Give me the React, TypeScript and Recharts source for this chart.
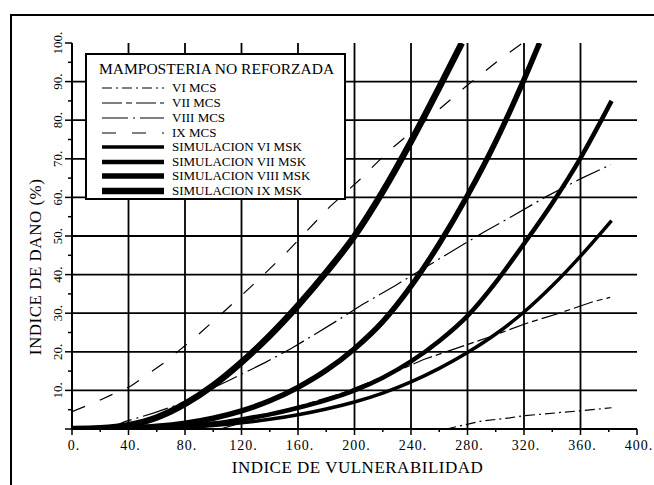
import { CartesianGrid, Legend, Line, LineChart, XAxis, YAxis } from "recharts";

const FONT = '"Liberation Serif", "DejaVu Serif", serif';

const X_TICKS = [0, 20, 40, 60, 80, 100, 120, 140, 160, 180, 200, 220, 240, 260, 280, 300, 320, 340, 360, 380, 400];
const Y_TICKS = [0, 5, 10, 15, 20, 25, 30, 35, 40, 45, 50, 55, 60, 65, 70, 75, 80, 85, 90, 95, 100];
const X_GRID = [40, 80, 120, 160, 200, 240, 280, 320, 360];
const Y_GRID = [10, 20, 30, 40, 50, 60, 70, 80, 90];

// observed MCS relations, [vulnerability index, damage %]
const MCS_VI = [[265, 0], [289, 2], [310, 2.9], [319, 3.4], [359, 4.7], [382, 5.5]];
const MCS_VII = [[105, 0], [141, 3.9], [160, 5.8], [192, 9.4], [232, 15.3], [249, 18], [296, 23.9], [322, 27.4], [345, 30], [369, 33], [381, 34.1]];
const MCS_VIII = [[25, 0], [37.5, 1.9], [57.6, 4.1], [74, 6.2], [110.7, 12.5], [136.6, 17.2], [155.5, 20.9], [187.4, 28], [205, 32.1], [229, 37.2], [260.6, 44.2], [292, 51.1], [311, 55], [335.7, 60.2], [361, 65], [381.5, 68.5]];
const MCS_IX = [[0, 4.5], [16.4, 6.9], [42, 11.2], [65.7, 17.3], [88, 24], [110, 31.2], [131.5, 38.5], [152.6, 46], [182.6, 57.6], [204, 64.7], [225, 72.3], [258, 82.2], [279, 88.8], [303, 95.8], [319, 100]];

// simulated MSK curves
const SIM_VI = [[0, 0], [40, 0], [60, 0.1], [80, 0.4], [100, 0.9], [120, 1.6], [140, 2.5], [160, 3.7], [180, 5.2], [200, 7], [220, 9.3], [240, 12.2], [260, 15.7], [280, 19.8], [300, 24.6], [320, 30.3], [340, 37.1], [360, 44.8], [382, 54]];
const SIM_VII = [[0, 0], [40, 0.1], [80, 0.6], [100, 1.4], [120, 2.5], [140, 3.8], [160, 5.5], [180, 7.5], [200, 10], [220, 13.3], [240, 17.5], [260, 22.8], [280, 29.3], [300, 38], [320, 48], [340, 58.5], [360, 70.2], [382, 85]];
const SIM_VIII = [[0, 0], [40, 0.3], [60, 0.7], [80, 1.5], [100, 2.8], [120, 4.7], [140, 7.3], [160, 10.8], [180, 15.2], [200, 20.8], [220, 27.8], [240, 37], [260, 48], [280, 60.5], [300, 74.5], [320, 90.5], [331, 100]];
const SIM_IX = [[0, 0], [20, 0.2], [40, 1], [60, 3], [80, 6.5], [100, 11.3], [120, 17.3], [140, 24.2], [160, 32], [180, 40.6], [200, 50], [220, 61.5], [240, 74.5], [260, 88.5], [276, 100]];

const toPoints = (pairs: number[][]) => pairs.map(([x, y]) => ({ x, y }));

const SERIES = [
  { name: "VI MCS", data: MCS_VI, width: 1.2, dash: "10 4 2 4", curve: "linear" },
  { name: "VII MCS", data: MCS_VII, width: 1.2, dash: "20 4 6 4", curve: "linear" },
  { name: "VIII MCS", data: MCS_VIII, width: 1.2, dash: "26 5 2 5", curve: "linear" },
  { name: "IX MCS", data: MCS_IX, width: 1.2, dash: "14 16", curve: "linear" },
  { name: "SIMULACION VI MSK", data: SIM_VI, width: 3.5, dash: undefined, curve: "monotone" },
  { name: "SIMULACION VII MSK", data: SIM_VII, width: 4.5, dash: undefined, curve: "monotone" },
  { name: "SIMULACION VIII MSK", data: SIM_VIII, width: 5.5, dash: undefined, curve: "monotone" },
  { name: "SIMULACION IX MSK", data: SIM_IX, width: 6.5, dash: undefined, curve: "monotone" },
];

const LEGEND_ROWS = [88, 103, 118, 133, 147, 162, 176, 191];

function XTick({ x, y, payload }: any) {
  const v = payload.value;
  const major = v % 40 === 0;
  return (
    <g>
      <line x1={x} x2={x} y1={y} y2={y + (major ? 6 : 3)} stroke="#000" strokeWidth={1.5} />
      {major && (
        <text x={x + 2} y={y + 21} textAnchor="middle" fontSize={14} fontFamily={FONT} letterSpacing={1} fill="#000">
          {`${v}.`}
        </text>
      )}
    </g>
  );
}

function YTick({ x, y, payload }: any) {
  const v = payload.value;
  const major = v % 10 === 0;
  const tx = x - 10;
  return (
    <g>
      <line x1={x} x2={x - (major ? 7 : 4)} y1={y} y2={y} stroke="#000" strokeWidth={1.5} />
      {major && v !== 0 && (
        <text x={tx} y={y} transform={`rotate(-90, ${tx}, ${y})`} textAnchor="middle" fontSize={13} fontFamily={FONT} fill="#000">
          {`${v}.`}
        </text>
      )}
    </g>
  );
}

function LegendBox() {
  return (
    <div style={{ position: "relative", width: 257, height: 143, border: "2px solid #000", background: "#fff", fontFamily: FONT, color: "#000" }}>
      <div style={{ position: "absolute", left: 12, top: 5, fontSize: 15.5, whiteSpace: "nowrap" }}>MAMPOSTERIA NO REFORZADA</div>
      {SERIES.map((s, i) => {
        const top = LEGEND_ROWS[i] - 55;
        return (
          <div key={s.name} style={{ position: "absolute", left: 0, top: top - 6, height: 12, width: 255 }}>
            <svg width={80} height={12} style={{ position: "absolute", left: 0, top: 0 }}>
              <line x1={15} x2={77} y1={6} y2={6} stroke="#000" strokeWidth={s.width} strokeDasharray={s.dash} />
            </svg>
            <span style={{ position: "absolute", left: 85, top: 0, fontSize: 13, lineHeight: "12px", whiteSpace: "nowrap" }}>{s.name}</span>
          </div>
        );
      })}
    </div>
  );
}

export default function App() {
  return (
    <div style={{ position: "absolute", left: 0, top: 0, width: 654, height: 485, background: "#fff", overflow: "hidden" }}>
      <div style={{ position: "absolute", left: 10, top: 14, width: 700, height: 500, borderTop: "2px solid #000", borderLeft: "2px solid #000" }} />
      <LineChart width={654} height={485} margin={{ top: 43, right: 17, bottom: 26, left: 32 }}>
        <CartesianGrid stroke="#000" strokeWidth={1.8} horizontalValues={Y_GRID} verticalValues={X_GRID} />
        <XAxis
          dataKey="x"
          type="number"
          domain={[0, 400]}
          ticks={X_TICKS}
          allowDataOverflow
          height={30}
          tickLine={false}
          tickSize={0}
          tickMargin={0}
          axisLine={{ stroke: "#000", strokeWidth: 2 }}
          tick={<XTick />}
          interval={0}
          label={{
            content: ({ viewBox }: any) => (
              <text x={viewBox.x + viewBox.width / 2 + 3} y={viewBox.y + 44} textAnchor="middle" fontSize={17} fontFamily={FONT} letterSpacing={0.5} fill="#000">
                INDICE DE VULNERABILIDAD
              </text>
            ),
          }}
        />
        <XAxis xAxisId="top" orientation="top" type="number" domain={[0, 400]} ticks={X_TICKS} height={0} tick={false} tickSize={4} axisLine={{ stroke: "#000", strokeWidth: 2 }} tickLine={{ stroke: "#000" }} interval={0} />
        <YAxis
          type="number"
          domain={[0, 100]}
          ticks={Y_TICKS}
          allowDataOverflow
          width={40}
          tickLine={false}
          tickSize={0}
          tickMargin={0}
          axisLine={{ stroke: "#000", strokeWidth: 2 }}
          tick={<YTick />}
          interval={0}
          label={{
            content: ({ viewBox }: any) => {
              const cx = viewBox.x + 9;
              const cy = viewBox.y + viewBox.height * 0.58;
              return (
                <text x={cx} y={cy} transform={`rotate(-90, ${cx}, ${cy})`} textAnchor="middle" fontSize={17} fontFamily={FONT} letterSpacing={0.5} fill="#000">
                  INDICE DE DANO (%)
                </text>
              );
            },
          }}
        />
        <YAxis yAxisId="right" orientation="right" type="number" domain={[0, 100]} ticks={Y_TICKS} width={0} mirror tick={false} tickSize={4} axisLine={{ stroke: "#000", strokeWidth: 2 }} tickLine={{ stroke: "#000" }} interval={0} />
        {SERIES.map((s) => (
          <Line
            key={s.name}
            name={s.name}
            data={toPoints(s.data)}
            dataKey="y"
            type={s.curve as any}
            stroke="#000"
            strokeWidth={s.width}
            strokeDasharray={s.dash}
            dot={false}
            activeDot={false}
            isAnimationActive={false}
          />
        ))}
        <Legend
          layout="horizontal"
          verticalAlign="middle"
          align="center"
          content={() => <LegendBox />}
          wrapperStyle={{ left: 85, top: 53, width: 261, height: 147 }}
        />
      </LineChart>
    </div>
  );
}
